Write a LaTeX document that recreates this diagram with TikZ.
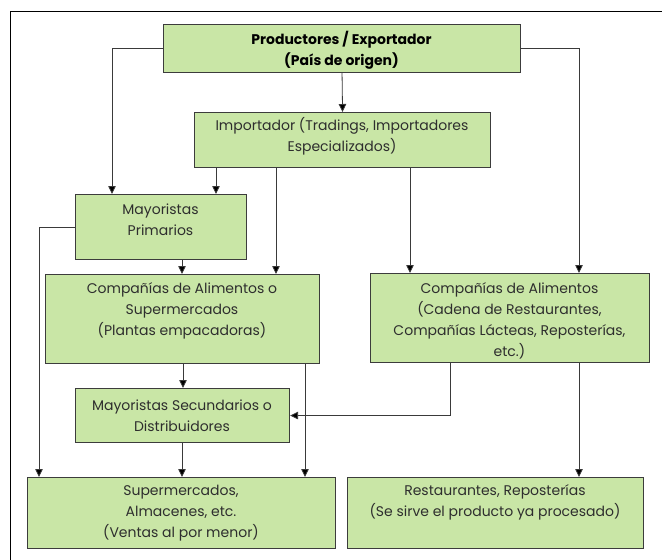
\documentclass[tikz,border=0pt]{standalone}
\usepackage{fontspec}
\setmainfont{Poppins}
\usetikzlibrary{arrows.meta}
\definecolor{boxfill}{HTML}{C9E6A6}
\definecolor{boxline}{HTML}{3C3C3C}
\definecolor{txtcol}{HTML}{2E2E2E}
\definecolor{linecol}{HTML}{3A3A3A}
\tikzset{
  box/.style={draw=boxline, fill=boxfill, line width=1.1pt, inner sep=0pt, anchor=north west},
  txt/.style={align=center, text=txtcol, font=\fontsize{14}{21}\selectfont, inner sep=0pt},
  btxt/.style={txt, font=\fontsize{14}{21}\selectfont\bfseries, text=black},
  arr/.style={draw=linecol, line width=0.8pt, -{Triangle[width=7.5pt,length=8pt,fill=black]}},
  ln/.style={draw=linecol, line width=0.8pt}
}
\begin{document}
\begin{tikzpicture}[x=1pt,y=-1pt]
\useasboundingbox (0,0) rectangle (662,560);
% frame
\draw[line width=1pt, black] (10,560) -- (10,11) -- (662,11);
% boxes
\node[box, minimum width=357pt, minimum height=48pt] (prod) at (163,24) {};
\node[box, minimum width=296pt, minimum height=55pt] (imp) at (194,112) {};
\node[box, minimum width=171pt, minimum height=65pt] (mp) at (75,194) {};
\node[box, minimum width=274pt, minimum height=89pt] (ca1) at (45,274) {};
\node[box, minimum width=279pt, minimum height=89pt] (ca2) at (370,273) {};
\node[box, minimum width=214pt, minimum height=54pt] (ms) at (75,388) {};
\node[box, minimum width=308pt, minimum height=71pt] (sup) at (27,477) {};
\node[box, minimum width=296pt, minimum height=71pt] (rest) at (347,477) {};
% texts
\node[btxt] (t1) at (341.5,50) {Productores / Exportador\\(País de origen)};
\node[txt] (t2) at (342,136) {Importador (Tradings, Importadores\\Especializados)};
\node[txt] (t3) at (160.5,220) {Mayoristas\\Primarios};
\node[txt] (t4) at (182,311) {Compañías de Alimentos o\\Supermercados\\(Plantas empacadoras)};
\node[txt] (t5) at (509.5,321) {Compañías de Alimentos\\(Cadena de Restaurantes,\\Compañías Lácteas, Reposterías,\\etc.)};
\node[txt] (t6) at (182,415.5) {Mayoristas Secundarios o\\Distribuidores};
\node[txt] (t7) at (181,513) {Supermercados,\\Almacenes, etc.\\(Ventas al por menor)};
\node[txt] (t8) at (495,502.5) {Restaurantes, Reposterías\\(Se sirve el producto ya procesado)};
% connectors
\draw[arr] (prod.south) -- (imp.north);
\draw[arr] (prod.west) -| ([xshift=37pt]mp.north west);
\draw[arr] (prod.east) -| ([xshift=209pt]ca2.north west);
\draw[arr] ([xshift=22pt]imp.south west) -- ([xshift=22pt]imp.south west |- mp.north);
\draw[arr] ([xshift=82pt]imp.south west) -- ([xshift=82pt]imp.south west |- ca1.north);
\draw[arr] ([xshift=216pt]imp.south west) -- ([xshift=216pt]imp.south west |- ca2.north);
\draw[arr] (mp.west) -| ([xshift=12pt]sup.north west);
\draw[arr] ([xshift=107pt]mp.south west) -- ([xshift=107pt]mp.south west |- ca1.north);
\draw[arr] ([xshift=138pt]ca1.south west) -- ([xshift=138pt]ca1.south west |- ms.north);
\draw[arr] ([xshift=260pt]ca1.south west) -- ([xshift=260pt]ca1.south west |- sup.north);
\draw[arr] ([xshift=80pt]ca2.south west) |- (ms.east);
\draw[arr] ([xshift=209pt]ca2.south west) -- ([xshift=209pt]ca2.south west |- rest.north);
\draw[arr] ([xshift=107pt]ms.south west) -- ([xshift=107pt]ms.south west |- sup.north);
\end{tikzpicture}
\end{document}
